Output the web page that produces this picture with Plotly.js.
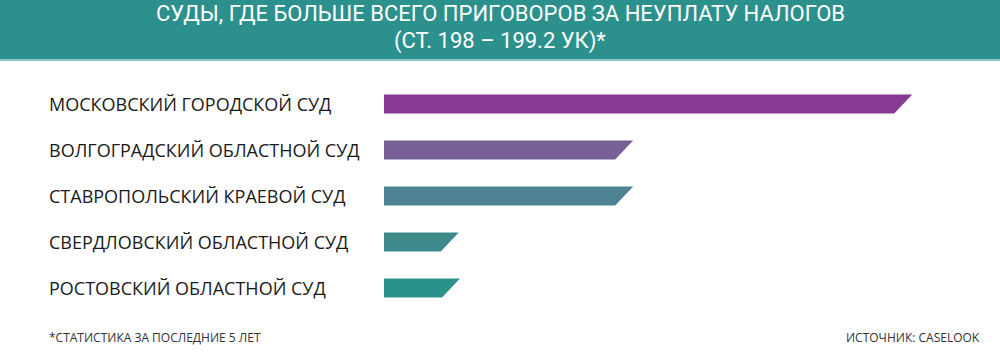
<!DOCTYPE html>
<html>
<head>
<meta charset="utf-8">
<script src="https://cdn.plot.ly/plotly-3.0.1.min.js"></script>
<style>
  html, body { margin: 0; padding: 0; background: #ffffff; }
  #chart { width: 1000px; height: 355px; }
</style>
</head>
<body>
<div id="chart"></div>
<script>
// ---- data ----
const courts = [
  "МОСКОВСКИЙ ГОРОДСКОЙ СУД",
  "ВОЛГОГРАДСКИЙ ОБЛАСТНОЙ СУД",
  "СТАВРОПОЛЬСКИЙ КРАЕВОЙ СУД",
  "СВЕРДЛОВСКИЙ ОБЛАСТНОЙ СУД",
  "РОСТОВСКИЙ ОБЛАСТНОЙ СУД"
];
const verdicts = [212, 100, 100, 30, 30.5];   // relative bar lengths
const barColors = ["#873A92", "#766096", "#4E8394", "#3E8A8B", "#2A918B"];
const titleLines = ["СУДЫ, ГДЕ БОЛЬШЕ ВСЕГО ПРИГОВОРОВ ЗА НЕУПЛАТУ НАЛОГОВ", "(СТ. 198 – 199.2 УК)*"];
const footNote = "*СТАТИСТИКА ЗА ПОСЛЕДНИЕ 5 ЛЕТ";
const sourceNote = "ИСТОЧНИК: CASELOOK";

// ---- layout geometry ----
const W = 1000, H = 355;
const M = { l: 384, r: 18, t: 81, b: 44 };
const plotW = W - M.l - M.r;
const plotH = H - M.t - M.b;
const band = plotH / courts.length;
const barPx = 19;
const slant = 18;
const half = barPx / 2;

// pixel -> paper helpers
const px2x = p => (p - M.l) / plotW;
const px2y = p => (M.t + plotH - p) / plotH;

const trace = {
  type: "bar",
  orientation: "h",
  x: verdicts,
  y: courts,
  marker: { color: barColors, line: { width: 0 } },
  hoverinfo: "skip"
};

// white wedges that cut the lower-right corner of each bar (45° slant)
const k = slant / barPx;
const ext = 1.5;
const cutPath = `M 0,${half} L 3,${half} L 3,${-half - ext} L ${-(slant + ext * k)},${-half - ext} Z`;
const shapes = courts.map((c, i) => ({
  type: "path",
  xref: "x", yref: "y",
  xsizemode: "pixel", ysizemode: "pixel",
  xanchor: verdicts[i], yanchor: c,
  path: cutPath,
  fillcolor: "#ffffff",
  line: { width: 0 },
  layer: "above"
}));

// header band
shapes.push({
  type: "rect", xref: "paper", yref: "paper",
  x0: px2x(0), x1: px2x(W), y0: px2y(59), y1: px2y(-2),
  fillcolor: "#2C918D", line: { width: 0 }, layer: "below"
});
shapes.push({
  type: "rect", xref: "paper", yref: "paper",
  x0: px2x(0), x1: px2x(W), y0: px2y(61), y1: px2y(59),
  fillcolor: "#8CC6C3", line: { width: 0 }, layer: "below"
});

const labelFont = { family: "Open Sans, Noto Sans, sans-serif", size: 18, color: "#1a1a1a" };
const noteFont = { family: "Open Sans, Noto Sans, sans-serif", size: 12, color: "#333333" };
const titleFont = { family: "Roboto, Open Sans, sans-serif", size: 22, color: "#ffffff" };

const annotations = courts.map(c => ({
  xref: "paper", yref: "y",
  x: px2x(47), y: c,
  xanchor: "left", yanchor: "middle",
  text: c, showarrow: false,
  font: labelFont
}));
annotations.push({
  xref: "paper", yref: "paper",
  x: px2x(47), y: px2y(337),
  xanchor: "left", yanchor: "middle",
  text: footNote, showarrow: false, font: noteFont
});
annotations.push({
  xref: "paper", yref: "paper",
  x: px2x(982), y: px2y(337),
  xanchor: "right", yanchor: "middle",
  text: sourceNote, showarrow: false, font: noteFont
});
const titleY = [14, 40.5];
titleLines.forEach((t, i) => annotations.push({
  xref: "paper", yref: "paper",
  x: px2x(500), y: px2y(titleY[i]),
  xanchor: "center", yanchor: "middle",
  text: t, showarrow: false, font: titleFont
}));

const layout = {
  width: W, height: H,
  margin: M,
  paper_bgcolor: "#ffffff",
  plot_bgcolor: "#ffffff",
  showlegend: false,
  bargap: 1 - barPx / band,
  xaxis: { range: [0, 240], visible: false, fixedrange: true },
  yaxis: {
    type: "category", range: [courts.length - 0.5, -0.5],
    showticklabels: false, showgrid: false, zeroline: false, showline: false, ticks: "",
    fixedrange: true
  },
  shapes: shapes,
  annotations: annotations
};

Plotly.newPlot("chart", [trace], layout, { displayModeBar: false, staticPlot: true });
</script>
</body>
</html>
